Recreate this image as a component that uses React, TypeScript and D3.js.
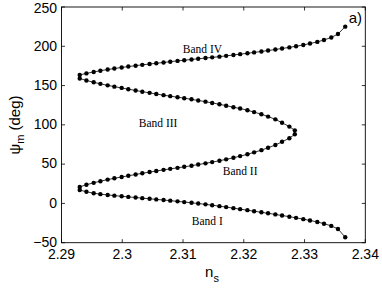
import React from 'react';
import * as d3 from 'd3';

// n_s sample points shared by every band
const nBand = [2.2930, 2.2941, 2.2953, 2.2964, 2.2976, 2.2987, 2.2999, 2.3010, 2.3022, 2.3033,
  2.3045, 2.3056, 2.3068, 2.3079, 2.3091, 2.3102, 2.3114, 2.3125, 2.3137, 2.3148,
  2.3160, 2.3171, 2.3183, 2.3194, 2.3206, 2.3217, 2.3229, 2.3240, 2.3252, 2.3263,
  2.3275, 2.3286, 2.3298, 2.3309, 2.3321, 2.3332, 2.3344, 2.3355, 2.3367];
const nInner = [2.2930, 2.2941, 2.2953, 2.2964, 2.2976, 2.2987, 2.2999, 2.3010, 2.3022, 2.3033,
  2.3045, 2.3056, 2.3068, 2.3079, 2.3091, 2.3102, 2.3114, 2.3125, 2.3137, 2.3148,
  2.3160, 2.3171, 2.3183, 2.3194, 2.3206, 2.3217, 2.3229, 2.3240, 2.3252, 2.3263,
  2.3275, 2.3284];

// psi_m (deg) for each band
const psiBandI = [17, 14.8, 13.0, 11.8, 10.8, 9.9, 9.1, 8.3, 7.5, 6.7,
  5.9, 5.1, 4.3, 3.5, 2.6, 1.7, 0.8, -0.2, -1.2, -2.3,
  -3.5, -4.7, -6.0, -7.3, -8.6, -9.9, -11.3, -12.6, -14.0, -15.4,
  -16.9, -18.4, -20.0, -21.7, -23.6, -25.8, -28.6, -32.5, -43];
const psiBandII = [21, 23.8, 26.2, 28.3, 30.3, 32.0, 33.6, 35.2, 36.8, 38.4,
  39.9, 41.3, 42.7, 44.0, 45.3, 46.6, 48.0, 49.5, 51.0, 52.6,
  54.3, 56.1, 58.1, 60.2, 62.5, 65.0, 67.8, 70.9, 74.4, 78.4,
  83.0, 88];
const psiBandIII = [159.0, 156.5, 154.2, 152.2, 150.3, 148.6, 147.0, 145.4, 143.8, 142.2,
  140.7, 139.2, 137.8, 136.5, 135.2, 133.9, 132.5, 131.0, 129.5, 127.9,
  126.2, 124.4, 122.4, 120.8, 118.6, 116.2, 113.5, 110.5, 107.0, 102.6,
  97.8, 93];
const psiBandIV = [163.5, 165.5, 167.3, 168.9, 170.4, 171.7, 173.0, 174.2, 175.3, 176.4,
  177.4, 178.4, 179.4, 180.4, 181.4, 182.3, 183.2, 184.1, 185.0, 185.9,
  186.8, 187.8, 188.9, 190.0, 191.1, 192.2, 193.4, 194.6, 195.9, 197.2,
  198.6, 200.1, 201.7, 203.5, 205.6, 208.0, 211.2, 215.6, 225];

const xTicks = [2.29, 2.3, 2.31, 2.32, 2.33, 2.34];
const yTicks = [-50, 0, 50, 100, 150, 200, 250];
const bandLabels = [
  { text: 'Band I', n: 2.3140, psi: -27.5 },
  { text: 'Band II', n: 2.3194, psi: 36 },
  { text: 'Band III', n: 2.3059, psi: 97 },
  { text: 'Band IV', n: 2.3132, psi: 191 },
];

const W = 382, H = 289;
const L = 61.5, R = 365.3, T = 7, B = 242.7;

export default function App() {
  const x = d3.scaleLinear().domain([2.29, 2.34]).range([L, R]);
  const y = d3.scaleLinear().domain([-50, 250]).range([B, T]);

  const zip = (ns: number[], ps: number[]) => ns.map((n, i) => [n, ps[i]] as [number, number]);
  const pts: [number, number][] = [
    ...zip(nBand, psiBandI).reverse(),
    ...zip(nInner, psiBandII),
    ...zip(nInner, psiBandIII).reverse(),
    ...zip(nBand, psiBandIV),
  ];
  const line = d3.line<[number, number]>().x(d => x(d[0])).y(d => y(d[1]));
  const sans = "'Liberation Sans', Arial, Helvetica, sans-serif";
  const serif = "'Liberation Serif', 'Times New Roman', serif";
  const tk = 3.5;

  return (
    <svg width={W} height={H} style={{ position: 'absolute', left: 0, top: 0, background: '#fff' }}>
      <path d={line(pts) || ''} fill="none" stroke="#000" strokeWidth={0.8} />
      {pts.map((d, i) => (
        <circle key={i} cx={x(d[0])} cy={y(d[1])} r={2.2} fill="#000" />
      ))}
      <rect x={L} y={T} width={R - L} height={B - T} fill="none" stroke="#000" strokeWidth={0.9} />
      {xTicks.map(v => (
        <g key={'x' + v}>
          <line x1={x(v)} x2={x(v)} y1={B} y2={B - tk} stroke="#000" strokeWidth={0.8} />
          <line x1={x(v)} x2={x(v)} y1={T} y2={T + tk} stroke="#000" strokeWidth={0.8} />
          <text x={x(v)} y={259} textAnchor="middle" fontFamily={sans} fontSize={14}>{String(v)}</text>
        </g>
      ))}
      {yTicks.map(v => (
        <g key={'y' + v}>
          <line x1={L} x2={L + tk} y1={y(v)} y2={y(v)} stroke="#000" strokeWidth={0.8} />
          <line x1={R} x2={R - tk} y1={y(v)} y2={y(v)} stroke="#000" strokeWidth={0.8} />
          <text x={57} y={Math.max(13, y(v) + 4.3)} textAnchor="end" fontFamily={sans} fontSize={14}>{v < 0 ? '\u2212' + Math.abs(v) : String(v)}</text>
        </g>
      ))}
      {bandLabels.map(b => (
        <text key={b.text} x={x(b.n)} y={y(b.psi)} textAnchor="middle" fontFamily={serif} fontSize={11.5}>{b.text}</text>
      ))}
      <text x={362} y={23} textAnchor="end" fontFamily={sans} fontSize={15}>a)</text>
      <text x={212} y={277} textAnchor="middle" fontFamily={sans} fontSize={15}>
        n<tspan fontSize={11} dy={5}>s</tspan>
      </text>
      <text transform="translate(20,125) rotate(-90)" textAnchor="middle" fontFamily={sans} fontSize={15}>
        {'\u03C8'}<tspan fontSize={11} dy={4}>m</tspan><tspan dy={-4}> (deg)</tspan>
      </text>
    </svg>
  );
}
